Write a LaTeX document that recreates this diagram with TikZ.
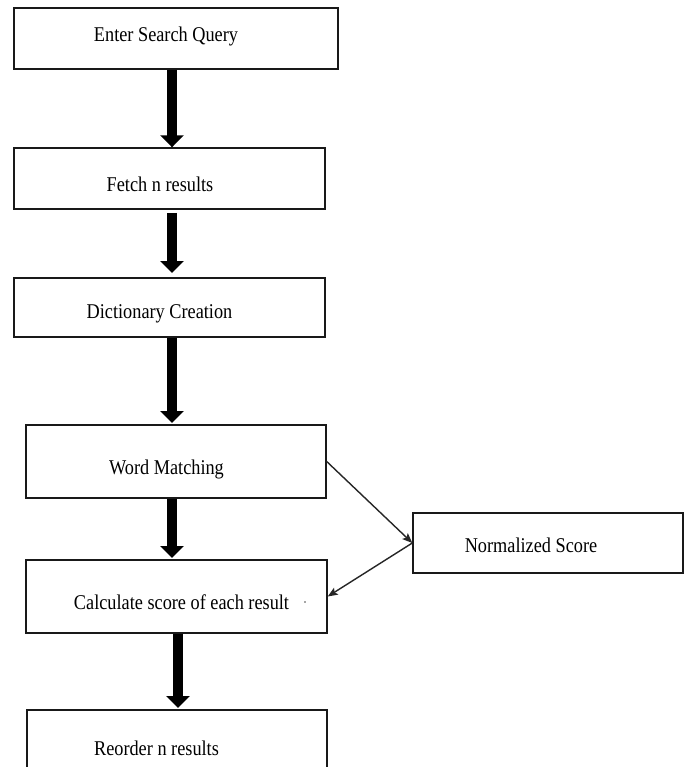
\documentclass[tikz,border=0pt]{standalone}
\usepackage{fontspec}
\setmainfont[FakeStretch=0.87]{Liberation Serif}
\usetikzlibrary{arrows.meta}
\begin{document}
\begin{tikzpicture}[x=1pt,y=-1pt,
  box/.style={draw=black!90,line width=1.4pt,rectangle,inner sep=0pt},
  lbl/.style={anchor=base,inner sep=0pt,font=\fontsize{21}{24}\selectfont,text=black},
  bigarrow/.style={line width=10.5pt,-{Triangle[width=23pt,length=12pt]}},
  thinarrow/.style={draw=black!85,line width=1.4pt,-{Stealth[width=8pt,length=10pt,inset=2pt]}}]
\useasboundingbox (0,0) rectangle (686,767);
\fill[white] (0,0) rectangle (686,767);
\begin{scope}
\clip (0,0) rectangle (686,767);
% boxes
\node[box,minimum width=324pt,minimum height=61pt] (b1) at (176,38.5) {};
\node[box,minimum width=311pt,minimum height=61pt] (b2) at (169.5,178.5) {};
\node[box,minimum width=311pt,minimum height=59pt] (b3) at (169.5,307.5) {};
\node[box,minimum width=300pt,minimum height=73pt] (b4) at (176,461.5) {};
\node[box,minimum width=301pt,minimum height=73pt] (b5) at (176.5,596.5) {};
\node[box,minimum width=300pt,minimum height=80pt] (b6) at (177,750) {};
\node[box,minimum width=270pt,minimum height=60pt] (ns) at (548,543) {};
% labels
\node[lbl] (t1) at (166,42) {Enter Search Query};
\node[lbl] (t2) at (160,192) {Fetch n results};
\node[lbl] (t3) at (159.5,318) {Dictionary Creation};
\node[lbl] (t4) at (166.5,474) {Word Matching};
\node[lbl] (t5) at (181.5,609) {Calculate score of each result};
\node[circle,fill=black!70,inner sep=0pt,minimum size=1.8pt] (dot) at (305,602) {};
\node[lbl] (tn) at (531,552) {Normalized Score};
\node[lbl] (t6) at (156.5,755) {Reorder n results};
% arrow end points
\coordinate (xa) at (172,0);
\coordinate (xb) at (178,0);
\coordinate (e2) at (172,213);
\coordinate (e2b) at (172,273);
\coordinate (e3) at (172,423);
\coordinate (e4) at (172,558);
\coordinate (e5) at (178,708);
% thick arrows
\draw[bigarrow] (b1.south -| xa) -- (b2.north -| xa);
\draw[bigarrow] (e2) -- (e2b);
\draw[bigarrow] (b3.south -| xa) -- (e3);
\draw[bigarrow] (b4.south -| xa) -- (e4);
\draw[bigarrow] (b5.south -| xb) -- (e5);
% thin arrows
\draw[thinarrow] (b4.east) -- (ns.west);
\draw[thinarrow] (ns.west) -- (b5.east);
\end{scope}
\end{tikzpicture}
\end{document}
